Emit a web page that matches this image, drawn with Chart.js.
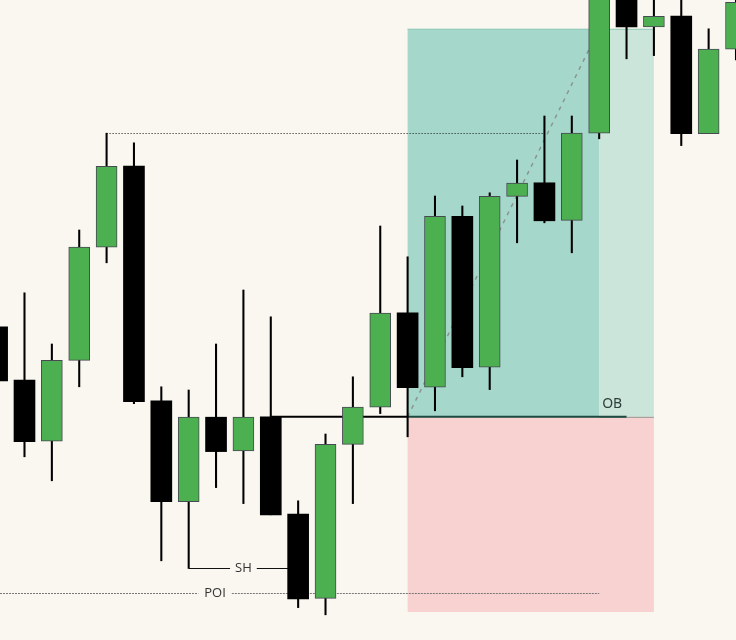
<!DOCTYPE html>
<html>
<head>
<meta charset="utf-8">
<script src="https://cdn.jsdelivr.net/npm/chart.js@4.4.1/dist/chart.umd.min.js"></script>
<style>
html,body{margin:0;padding:0;background:#faf7f0;}
#wrap{width:736px;height:640px;}
</style>
</head>
<body>
<div id="wrap"><canvas id="chart" width="736" height="640"></canvas></div>
<script>
'use strict';

// candles (price units)
var bars   = [0,1,2,3,4,5,6,7,8,9,10,11,12,13,14,15,16,17,18,19,20,21,22,23,24,25,26,27];
var opens  = [178.3,165.0,149.7,169.9,198.2,218.5,159.8,134.6,155.7,147.3,155.8,131.5,110.4,148.9,158.2,181.8,163.2,205.9,168.2,210.9,214.3,204.9,226.7,263.8,253.3,256.0,226.6,247.7];
var highs  = [181.0,186.8,174.0,202.5,226.7,224.3,163.3,162.5,174.0,187.5,180.8,134.8,151.5,165.8,203.5,195.8,211.0,208.5,211.8,220.0,231.0,231.0,265.0,267.5,262.5,261.3,252.8,262.0];
var lows   = [163.0,145.8,139.8,163.3,194.3,159.1,119.8,117.9,138.1,134.1,131.3,108.1,106.3,134.1,156.6,150.8,157.3,165.8,162.6,199.3,204.3,196.8,225.3,245.3,246.1,223.6,226.6,245.0];
var closes = [164.8,149.6,169.9,198.2,218.4,159.6,134.6,155.7,147.1,155.7,131.3,110.3,148.9,158.2,181.7,163.1,205.9,168.1,210.9,214.2,204.8,226.7,262.0,253.3,255.9,226.6,247.7,259.4];

// levels drawn as annotations
var obLevel = 155.8, tpLevel = 252.8, slLevel = 107.0;
var poiLevel = 111.7, shLevel = 117.9, prevHigh = 226.7;

var GREEN = '#4caf50';

function isUp(i) { return closes[i] >= opens[i]; }

function hline(ctx, x1, x2, y, color, width, dash) {
    ctx.save();
    ctx.beginPath();
    ctx.strokeStyle = color;
    ctx.lineWidth = width;
    ctx.setLineDash(dash || []);
    ctx.moveTo(x1, y);
    ctx.lineTo(x2, y);
    ctx.stroke();
    ctx.restore();
}

// line with a text label sitting in a gap
function labelLine(ctx, x1, x2, y, cx, text, color, width, dash, pad) {
    ctx.save();
    ctx.font = '13px "Open Sans", sans-serif';
    var w = ctx.measureText(text).width;
    hline(ctx, x1, cx - w / 2 - pad, y, color, width, dash);
    hline(ctx, cx + w / 2 + pad, x2, y, color, width, dash);
    ctx.fillStyle = '#333';
    ctx.textAlign = 'center';
    ctx.textBaseline = 'middle';
    ctx.fillText(text, cx, y);
    ctx.restore();
}

var bgPlugin = {
    id: 'bg',
    beforeDraw: function(chart) {
        var c = chart.ctx;
        c.save();
        c.fillStyle = '#faf7f0';
        c.fillRect(0, 0, chart.width, chart.height);
        c.restore();
    }
};

var zonesPlugin = {
    id: 'zones',
    beforeDatasetsDraw: function(chart) {
        var c = chart.ctx, sx = chart.scales.x, sy = chart.scales.y;
        var X = function(v) { return sx.getPixelForValue(v); };
        var Y = function(v) { return sy.getPixelForValue(v); };

        var xa = X(15), xb = X(22), xc = X(24);
        var yOb = Y(obLevel), yTp = Y(tpLevel), ySl = Y(slLevel);

        // profit / risk boxes
        c.save();
        c.fillStyle = '#a6d7cb';
        c.fillRect(xa, yTp, xb - xa, yOb - yTp);
        c.fillStyle = '#cce5da';
        c.fillRect(xb, yTp, xc - xb, yOb - yTp);
        c.fillStyle = '#f8d2d0';
        c.fillRect(xa, yOb, xc - xa, ySl - yOb);
        c.restore();
        hline(c, xa, xc, yTp + 0.5, '#93cbbb', 1);
        hline(c, xb, xc, yOb + 0.5, '#8c9892', 1);

        // previous high, dotted
        hline(c, X(4), X(20), Math.round(Y(prevHigh)) + 0.5, '#111', 1, [1, 2]);

        // diagonal path
        c.save();
        c.beginPath();
        c.strokeStyle = '#8a9590';
        c.lineWidth = 1.5;
        c.setLineDash([4, 5]);
        c.moveTo(X(15), yOb);
        c.lineTo(X(22), yTp);
        c.stroke();
        c.restore();

        // OB line
        hline(c, X(10), xa, yOb, '#000', 2);
        hline(c, xa, X(23), yOb, '#1d4a40', 2);
        c.save();
        c.font = '14px "Noto Sans", sans-serif';
        c.fillStyle = '#2c3e38';
        c.textAlign = 'left';
        c.textBaseline = 'bottom';
        c.fillText('OB', xb + 3, yOb - 6);
        c.restore();

        // SH and POI markers
        labelLine(c, X(7), X(11), Math.round(Y(shLevel)) + 0.5, X(9), 'SH', '#111', 1, null, 5);
        labelLine(c, 0, X(22), Math.round(Y(poiLevel)) + 0.5, X(8) - 1, 'POI', '#777', 1, [2, 1], 6);
    }
};

var wickData = bars.map(function(i) { return { x: i, y: [lows[i], highs[i]] }; });
var bodyData = bars.map(function(i) { return { x: i, y: [opens[i], closes[i]] }; });

new Chart(document.getElementById('chart').getContext('2d'), {
    type: 'bar',
    data: {
        datasets: [
            {
                label: 'body',
                data: bodyData,
                grouped: false,
                barThickness: 21,
                order: 0,
                backgroundColor: function(ctx) { return isUp(ctx.dataIndex) ? GREEN : '#000'; },
                borderColor: function(ctx) { return isUp(ctx.dataIndex) ? '#474a52' : '#000'; },
                borderWidth: function(ctx) { return isUp(ctx.dataIndex) ? 1 : 0; },
                borderSkipped: false
            },
            {
                label: 'wick',
                data: wickData,
                grouped: false,
                barThickness: 1.4,
                order: 1,
                backgroundColor: '#000',
                borderWidth: 0
            }
        ]
    },
    options: {
        responsive: false,
        devicePixelRatio: 1,
        animation: false,
        layout: { padding: 0 },
        plugins: {
            legend: { display: false },
            tooltip: { enabled: false }
        },
        scales: {
            x: { type: 'linear', display: false, min: 0.105, max: 27.0, offset: false },
            y: { type: 'linear', display: false, min: 100, max: 260 }
        }
    },
    plugins: [bgPlugin, zonesPlugin]
});
</script>
</body>
</html>
